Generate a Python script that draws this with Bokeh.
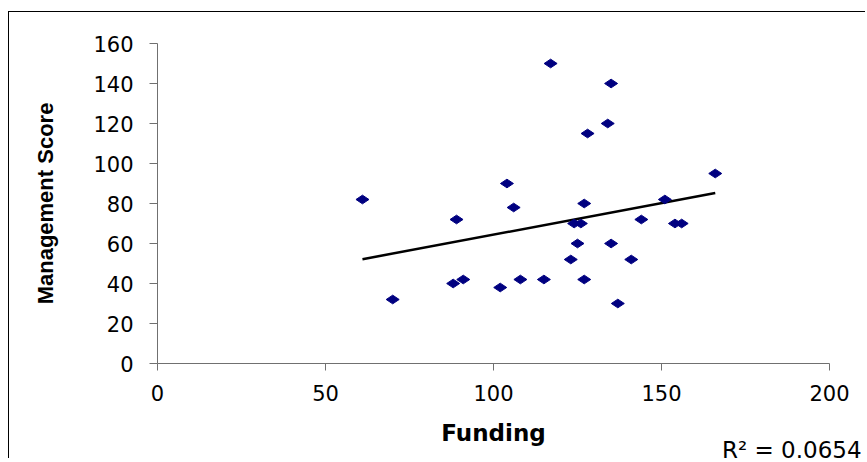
import numpy as np
from bokeh.plotting import figure
from bokeh.models import Range1d, FixedTicker, Div
from bokeh.layouts import column
from bokeh.embed import file_html
from bokeh.resources import INLINE

# Data
funding = [61, 70, 88, 91, 89, 102, 104, 106, 108, 115, 123, 124, 126, 125,
           127, 127, 135, 137, 141, 144, 151, 154, 156, 117, 135, 128, 134, 166]
score = [82, 32, 40, 42, 72, 38, 90, 78, 42, 42, 52, 70, 70, 60,
         80, 42, 60, 30, 52, 72, 82, 70, 70, 150, 140, 115, 120, 95]
x_ticks = [0, 50, 100, 150, 200]
y_ticks = [0, 20, 40, 60, 80, 100, 120, 140, 160]
r2_text = "R\u00b2 = 0.0654"

p = figure(width=857, height=447, output_backend="svg", toolbar_location=None,
           x_range=Range1d(0, 200), y_range=Range1d(0, 160),
           min_border_left=148, min_border_right=37,
           min_border_top=31, min_border_bottom=96)
p.styles = {"border-left": "1.5px solid #000", "border-top": "1.5px solid #000",
            "border-right": "0px none white", "border-bottom": "0px none white",
            "outline": "none", "box-shadow": "none",
            "margin-top": "11px", "margin-left": "8px"}
p.outline_line_color = None
p.xgrid.grid_line_color = None
p.ygrid.grid_line_color = None
p.background_fill_color = "white"
p.border_fill_color = "white"

# Trend line (least squares from the data)
slope, intercept = np.polyfit(funding, score, 1)
xs = [min(funding), max(funding)]
ys = [slope * v + intercept for v in xs]
p.line(xs, ys, line_color="black", line_width=2.5)

p.scatter(funding, score, marker="diamond", size=13, angle=np.pi / 2,
          fill_color="#000080", line_color="#000080")

for ax in (p.xaxis[0], p.yaxis[0]):
    ax.axis_line_color = "#707070"
    ax.major_tick_line_color = "#707070"
    ax.minor_tick_line_color = None
    ax.major_tick_in = 0
    ax.major_label_text_font = "DejaVu Sans"
    ax.major_label_text_font_size = "21px"
    ax.major_label_text_color = "black"
    ax.axis_label_text_font_style = "bold"
    ax.axis_label_text_color = "black"

p.xaxis[0].ticker = FixedTicker(ticks=x_ticks)
p.yaxis[0].ticker = FixedTicker(ticks=y_ticks)
p.xaxis[0].major_tick_out = 7
p.yaxis[0].major_tick_out = 8
p.xaxis[0].major_label_standoff = 14
p.yaxis[0].major_label_standoff = 16

p.xaxis[0].axis_label = "Funding"
p.xaxis[0].axis_label_text_font = "DejaVu Sans"
p.xaxis[0].axis_label_text_font_size = "23px"
p.xaxis[0].axis_label_standoff = 16

p.yaxis[0].axis_label = "Management Score"
p.yaxis[0].axis_label_text_font = "Liberation Sans"
p.yaxis[0].axis_label_text_font_size = "22px"
p.yaxis[0].axis_label_standoff = 32

r2 = Div(text=r2_text, width=140, height=18,
         styles={"position": "absolute", "left": "722px", "top": "441px",
                 "font-family": "DejaVu Sans", "font-size": "23px",
                 "line-height": "18px", "color": "black",
                 "white-space": "nowrap", "margin": "0"})

layout = column(p, r2)
open("out.html", "w").write(file_html(layout, INLINE))
